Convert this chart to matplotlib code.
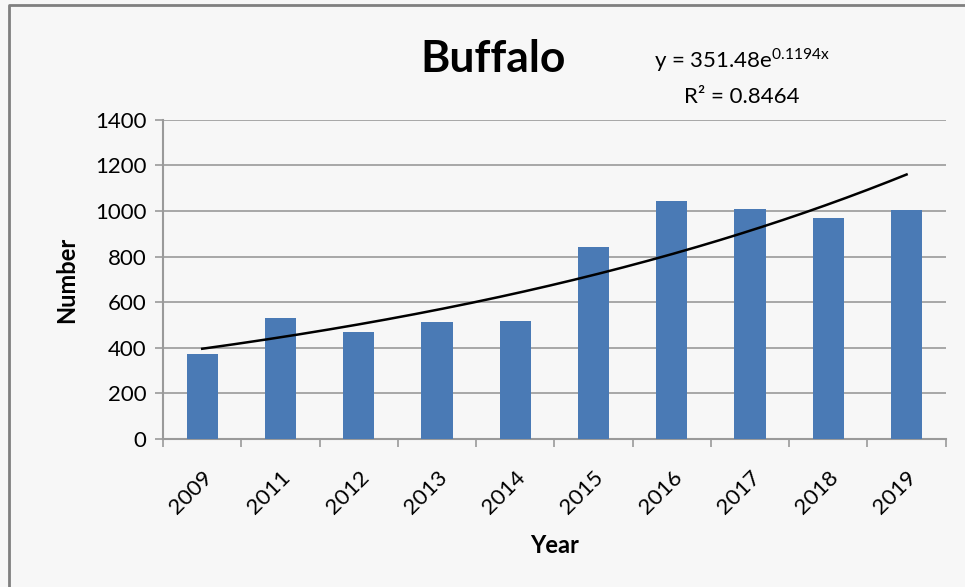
import numpy as np
import matplotlib
matplotlib.use("Agg")
import matplotlib.pyplot as plt
from matplotlib.lines import Line2D

plt.rcParams['font.family'] = ['Lato', 'DejaVu Sans']

years = ['2009', '2011', '2012', '2013', '2014', '2015', '2016', '2017', '2018', '2019']
numbers = [372, 530, 468, 513, 518, 840, 1044, 1010, 970, 1003]

# trendline coefficients as printed on the chart
trend_a = 351.48
trend_b = 0.1194
r2_text = 'R² = 0.8464'

bar_color = '#4a7ab5'
grid_color = '#9a9a9a'

fig = plt.figure(figsize=(9.65, 5.87), dpi=100)
fig.patch.set_facecolor('#f7f7f7')
# frame edge visible only on the left and top
fig.lines.append(Line2D([0.0095, 0.0095, 1.0], [0.0, 0.9915, 0.9915], transform=fig.transFigure,
                        color='#808080', linewidth=2))

ax = fig.add_axes([0.169, 0.252, 0.811, 0.544])
ax.set_facecolor('#f7f7f7')

x = np.arange(len(years))
ax.bar(x, numbers, width=0.4, color=bar_color, zorder=3)

xs = np.linspace(1, len(years), 200)
ax.plot(xs - 1, trend_a * np.exp(trend_b * xs), color='black', linewidth=1.8, zorder=4)

ax.set_xlim(-0.5, len(years) - 0.5)
ax.set_ylim(0, 1400)
ax.set_yticks(np.arange(0, 1401, 200))
ax.yaxis.grid(True, color=grid_color, linewidth=1.2, zorder=0)
ax.set_axisbelow(True)

ax.set_xticks(x)
ax.set_xticklabels(years, rotation=45, ha='right', rotation_mode='anchor', fontsize=16)
ax.tick_params(axis='x', length=0, pad=20)
ax.set_xticks(np.arange(-0.5, len(years)), minor=True)
ax.tick_params(axis='x', which='minor', length=6, width=1.2, color=grid_color, direction='out')
ax.tick_params(axis='y', length=6, width=1.2, color=grid_color, labelsize=16, pad=6)

for s in ['top', 'right']:
    ax.spines[s].set_visible(False)
for s in ['left', 'bottom']:
    ax.spines[s].set_color(grid_color)
    ax.spines[s].set_linewidth(1.5)

ax.set_xlabel('Year', fontsize=17, fontweight='bold', labelpad=12)
ax.set_ylabel('Number', fontsize=17, fontweight='bold', labelpad=12)

fig.text(0.511, 0.900, 'Buffalo', ha='center', va='center', fontsize=32, fontweight='bold')
fig.text(0.769, 0.898, r'y = 351.48e$^{\mathregular{0.1194x}}$', ha='center', va='center', fontsize=16)
fig.text(0.769, 0.834, r2_text, ha='center', va='center', fontsize=16)

fig.savefig('out.png', dpi=100, facecolor=fig.get_facecolor())
